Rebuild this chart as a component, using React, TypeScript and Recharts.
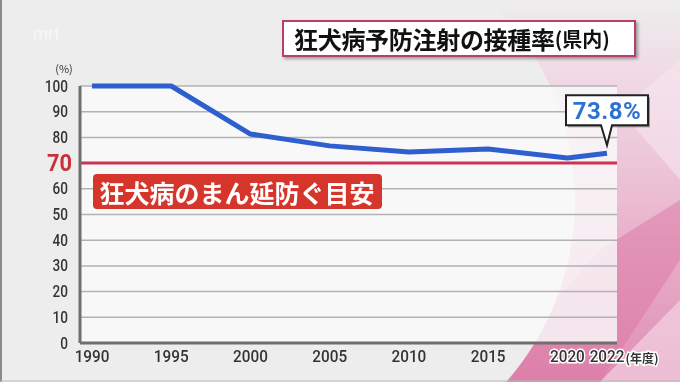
import React from 'react';
import {
  LineChart,
  Line,
  XAxis,
  YAxis,
  CartesianGrid,
  ReferenceLine,
  LabelList,
} from 'recharts';

const years = [1990, 1995, 2000, 2005, 2010, 2015, 2020, 2022];
const rates = [100, 100, 81.3, 76.7, 74.3, 75.5, 72.0, 73.8];
const yTicks = [0, 10, 20, 30, 40, 50, 60, 70, 80, 90, 100];
const guideValue = 70;
const guideText = '狂犬病のまん延防ぐ目安';
const titleMain = '狂犬病予防注射の接種率';
const titleSub = '(県内)';

// the source chart spaces 5-year steps evenly, then squeezes 2020→2022
const slotOf = (year: number) => (year <= 2020 ? (year - 1990) / 2.5 : 12 + (year - 2020) / 2);

const rows = years.map((year, i) => ({ year, slot: slotOf(year), rate: rates[i] }));
const xTicks = years.map(slotOf);

const NUM_FONT = 'Roboto, "Noto Sans CJK JP", sans-serif';
const JP_FONT = '"Noto Sans CJK JP", "Noto Sans", sans-serif';

const YTick = (props: any) => {
  const { x, y, payload } = props;
  const red = payload.value === guideValue;
  return (
    <text
      transform={`translate(${x + (red ? 4 : 0)},${y}) scale(${red ? 0.95 : 0.8},1)`}
      textAnchor="end"
      dominantBaseline="central"
      fontFamily={NUM_FONT}
      fontSize={red ? 23 : 17}
      fontWeight={red ? 700 : 500}
      fill={red ? '#c7313a' : '#333'}
    >
      {payload.value}
    </text>
  );
};

const XTick = (props: any) => {
  const { x, y, payload } = props;
  const year = years[xTicks.indexOf(payload.value)];
  const halo = year >= 2020;
  return (
    <text
      transform={`translate(${x},${y + 13}) scale(0.9,1)`}
      textAnchor="middle"
      dominantBaseline="central"
      fontFamily={NUM_FONT}
      fontSize={17}
      fontWeight={500}
      fill="#333"
      stroke={halo ? '#fff' : 'none'}
      strokeWidth={halo ? 3 : 0}
      paintOrder="stroke"
    >
      {year}
    </text>
  );
};

const GuideLabel = (props: any) => {
  const vb = props.viewBox || {};
  const bx = vb.x + 13;
  const by = vb.y + 11;
  return (
    <g>
      <rect x={bx} y={by} width={289} height={35} rx={4} fill="#d6352b" />
      <text
        x={bx + 144}
        y={by + 18}
        textAnchor="middle"
        dominantBaseline="central"
        fontFamily={JP_FONT}
        fontSize={25}
        fontWeight={700}
        fill="#fff"
      >
        {guideText}
      </text>
    </g>
  );
};

const Callout = (props: any) => {
  const { x, y, index, value } = props;
  if (index !== rows.length - 1) return null;
  const left = x - 41;
  const top = y - 58;
  const bottom = top + 30;
  return (
    <g>
      <rect x={left + 2} y={top + 2} width={82} height={30} fill="rgba(0,0,0,0.35)" />
      <path
        d={`M${left},${top} H${left + 82} V${bottom} H${x + 5} L${x},${y - 8} L${x - 6},${bottom} H${left} Z`}
        fill="#fff"
        stroke="#222"
        strokeWidth={2}
      />
      <text
        x={left + 41}
        y={top + 16}
        textAnchor="middle"
        dominantBaseline="central"
        fontFamily={NUM_FONT}
        fontSize={24}
        fontWeight={700}
        fill="#2e72d0"
        letterSpacing={0.5}
      >
        {`${value}%`}
      </text>
    </g>
  );
};

const Backdrop = () => (
  <svg width={680} height={382} style={{ position: 'absolute', left: 0, top: 0 }}>
    <defs>
      <linearGradient id="pink" x1="0" y1="0" x2="0" y2="1">
        <stop offset="0%" stopColor="#f0dbe6" stopOpacity={0} />
        <stop offset="18%" stopColor="#f0d6e3" stopOpacity={0.8} />
        <stop offset="60%" stopColor="#e9b3cc" stopOpacity={1} />
        <stop offset="100%" stopColor="#e08db3" stopOpacity={1} />
      </linearGradient>
      <mask id="circ">
        <rect x={0} y={0} width={680} height={382} fill="#fff" />
        <circle cx={300} cy={200} r={275} fill="#000" />
      </mask>
    </defs>
    <rect x={0} y={0} width={680} height={382} fill="#ededed" />
    <rect x={380} y={0} width={300} height={382} fill="url(#pink)" mask="url(#circ)" />
    <g mask="url(#circ)">
      <polygon points="480,382 600,250 680,200 680,260 600,382" fill="#d9729f" opacity={0.45} />
      <polygon points="600,382 680,300 680,382" fill="#f2d3e2" opacity={0.7} />
      <polygon points="620,110 680,60 680,180" fill="#f6e6ee" opacity={0.6} />
    </g>
    <line x1={1} y1={0} x2={1} y2={382} stroke="#8a8a8a" strokeWidth={2} />
    <line x1={0} y1={381} x2={680} y2={381} stroke="#bbb" strokeWidth={1} />
    <text x={33} y={39} fontFamily={NUM_FONT} fontSize={17} fill="#fff" opacity={0.6}>
      mrt
    </text>
  </svg>
);

export default function App() {
  return (
    <div style={{ position: 'absolute', left: 0, top: 0, width: 680, height: 382, overflow: 'hidden' }}>
      <Backdrop />
      <div style={{ position: 'absolute', left: 0, top: 0 }}>
        <LineChart width={680} height={382} data={rows} margin={{ top: 86, right: 63, bottom: 0, left: 0 }}>
          <CartesianGrid
            vertical={false}
            stroke="#b2b2b2"
            strokeWidth={1.5}
            fill="#fafafa"
            fillOpacity={0.82}
          />
          <XAxis
            dataKey="slot"
            type="number"
            domain={[0, 13]}
            ticks={xTicks}
            interval={0}
            height={39}
            padding={{ left: 12, right: 10 }}
            tickSize={0}
            tickMargin={0}
            tick={<XTick />}
            axisLine={{ stroke: '#6f6f6f', strokeWidth: 3 }}
          />
          <XAxis xAxisId="top" orientation="top" dataKey="slot" type="number" domain={[0, 13]} height={0} tick={false} tickLine={false} axisLine={{ stroke: '#8c8c8c', strokeWidth: 2 }} />
          <YAxis
            domain={[0, 100]}
            ticks={yTicks}
            interval={0}
            width={80}
            tickSize={0}
            tickMargin={12}
            tick={<YTick />}
            axisLine={{ stroke: '#6f6f6f', strokeWidth: 3 }}
          />
          <YAxis yAxisId="right" orientation="right" domain={[0, 100]} width={0} tick={false} tickLine={false} axisLine={{ stroke: '#8c8c8c', strokeWidth: 2 }} />
          <ReferenceLine
            y={guideValue}
            stroke="#cc3352"
            strokeWidth={3}
            label={(p: any) => <GuideLabel viewBox={p.viewBox} />}
          />
          <Line
            type="linear"
            dataKey="rate"
            stroke="#2f5ecf"
            strokeWidth={5}
            strokeLinejoin="round"
            dot={false}
            activeDot={false}
            isAnimationActive={false}
          >
            <LabelList dataKey="rate" content={<Callout />} />
          </Line>
          <text x={64} y={68} textAnchor="middle" dominantBaseline="central" fontFamily={JP_FONT} fontSize={11} fill="#333">
            (%)
          </text>
          <text
            x={642}
            y={357}
            textAnchor="middle"
            dominantBaseline="central"
            fontFamily={JP_FONT}
            fontSize={12}
            fontWeight={700}
            fill="#333"
            stroke="#fff"
            strokeWidth={3}
            paintOrder="stroke"
          >
            (年度)
          </text>
        </LineChart>
      </div>
      <div
        style={{
          position: 'absolute',
          left: 282,
          top: 20,
          width: 340,
          height: 33,
          border: '2px solid #b4416a',
          background: '#fff',
          boxShadow: '2px 2px 3px rgba(0,0,0,0.35)',
          fontFamily: JP_FONT,
          fontWeight: 700,
          color: '#111',
          display: 'flex',
          alignItems: 'center',
          paddingLeft: 10,
          boxSizing: 'content-box',
          whiteSpace: 'nowrap',
        }}
      >
        <span style={{ fontSize: 24, letterSpacing: -0.3 }}>{titleMain}</span>
        <span style={{ fontSize: 20 }}>{titleSub}</span>
      </div>
    </div>
  );
}
